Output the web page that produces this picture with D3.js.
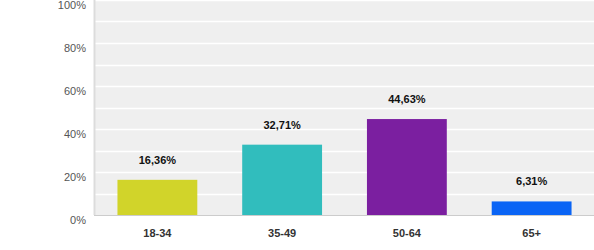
<!DOCTYPE html>
<html>
<head>
<meta charset="utf-8">
<script src="https://cdn.jsdelivr.net/npm/d3@7"></script>
<style>
  body { margin: 0; background: #fff; }
  svg { display: block; font-family: "Liberation Sans", Arial, sans-serif; }
</style>
</head>
<body>
<script>
// chart data
var categories = ['18-34', '35-49', '50-64', '65+'];
var values = [16.36, 32.71, 44.63, 6.31];
var valueLabels = ['16,36%', '32,71%', '44,63%', '6,31%'];
var barColors = ['#d1d42a', '#31bdbd', '#7b1fa0', '#0a64f5'];
var yTicks = [0, 20, 40, 60, 80, 100];
var gridTicks = [10, 20, 30, 40, 50, 60, 70, 80, 90, 100];

var width = 594, height = 250;
var plot = { left: 95, right: 594, top: 0, bottom: 215 };

var svg = d3.select('body').append('svg')
  .attr('width', width)
  .attr('height', height);

var x = d3.scaleBand()
  .domain(categories)
  .range([plot.left, plot.right])
  .paddingInner(0.36)
  .paddingOuter(0.18);

var y = d3.scaleLinear()
  .domain([0, 100])
  .range([plot.bottom, plot.top]);

// background
svg.append('rect')
  .attr('x', plot.left)
  .attr('y', plot.top)
  .attr('width', plot.right - plot.left)
  .attr('height', plot.bottom - plot.top)
  .attr('fill', '#efefef');

// gridlines
svg.selectAll('line.grid')
  .data(gridTicks)
  .enter()
  .append('line')
  .attr('class', 'grid')
  .attr('x1', plot.left)
  .attr('x2', plot.right)
  .attr('y1', function(d) { return Math.round(y(d)) + 0.5; })
  .attr('y2', function(d) { return Math.round(y(d)) + 0.5; })
  .attr('stroke', '#fff')
  .attr('stroke-width', 1.5);

// left axis line
svg.append('line')
  .attr('x1', plot.left - 0.5).attr('x2', plot.left - 0.5)
  .attr('y1', plot.top).attr('y2', plot.bottom)
  .attr('stroke', '#dcdcdc')
  .attr('stroke-width', 2);

// y labels
svg.selectAll('text.ylab')
  .data(yTicks)
  .enter()
  .append('text')
  .attr('class', 'ylab')
  .attr('x', 86)
  .attr('y', function(d) { return y(d) + 9; })
  .attr('text-anchor', 'end')
  .attr('font-size', 11)
  .attr('fill', '#555')
  .text(function(d) { return d + '%'; });

// bars
svg.selectAll('rect.bar')
  .data(values)
  .enter()
  .append('rect')
  .attr('class', 'bar')
  .attr('x', function(d, i) { return x(categories[i]); })
  .attr('width', x.bandwidth())
  .attr('y', function(d) { return y(d); })
  .attr('height', function(d) { return plot.bottom - y(d); })
  .attr('fill', function(d, i) { return barColors[i]; });

// bottom axis line
svg.append('line')
  .attr('x1', plot.left - 1).attr('x2', plot.right)
  .attr('y1', plot.bottom + 0.5).attr('y2', plot.bottom + 0.5)
  .attr('stroke', '#cccccc');

// value labels
svg.selectAll('text.val')
  .data(values)
  .enter()
  .append('text')
  .attr('class', 'val')
  .attr('x', function(d, i) { return x(categories[i]) + x.bandwidth() / 2; })
  .attr('y', function(d) { return y(d) - 16; })
  .attr('text-anchor', 'middle')
  .attr('font-size', 11)
  .attr('font-weight', 'bold')
  .attr('fill', '#111')
  .text(function(d, i) { return valueLabels[i]; });

// category labels
svg.selectAll('text.xlab')
  .data(categories)
  .enter()
  .append('text')
  .attr('class', 'xlab')
  .attr('x', function(d) { return x(d) + x.bandwidth() / 2; })
  .attr('y', 237)
  .attr('text-anchor', 'middle')
  .attr('font-size', 11)
  .attr('font-weight', 'bold')
  .attr('fill', '#333')
  .text(function(d) { return d; });
</script>
</body>
</html>
